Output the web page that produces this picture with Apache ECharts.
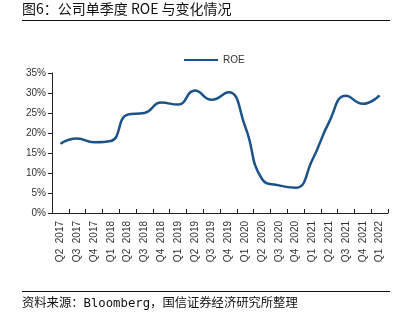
<!DOCTYPE html>
<html>
<head>
<meta charset="utf-8">
<script src="https://cdn.jsdelivr.net/npm/echarts@6/dist/echarts.min.js"></script>
<style>html,body{margin:0;padding:0;background:#fff;}#c{width:412px;height:327px;}</style>
</head>
<body>
<div id="c"></div>
<script>
const categories = ['Q2 2017','Q3 2017','Q4 2017','Q1 2018','Q2 2018','Q3 2018','Q4 2018','Q1 2019','Q2 2019','Q3 2019','Q4 2019','Q1 2020','Q2 2020','Q3 2020','Q4 2020','Q1 2021','Q2 2021','Q3 2021','Q4 2021','Q1 2022'];
const roe = [17.3, 18.6, 17.7, 18.0, 24.6, 25.0, 27.6, 27.1, 30.6, 28.3, 30.2, 21.6, 8.5, 6.9, 6.3, 13.3, 22.8, 29.3, 27.3, 29.4];
const yTicks = [0, 5, 10, 15, 20, 25, 30, 35];
const titleText = '图6：公司单季度 ROE 与变化情况';
const sourceText = '资料来源：Bloomberg，国信证券经济研究所整理';

const chart = echarts.init(document.getElementById('c'));
chart.setOption({
  animation: false,
  backgroundColor: '#fff',
  textStyle: { fontFamily: 'Liberation Sans, Arial, sans-serif' },
  legend: {
    data: ['ROE'],
    top: 50, left: 179,
    itemWidth: 34, itemHeight: 12, itemGap: 4,
    icon: 'path://M0,5 L34,5 L34,7 L0,7 Z',
    textStyle: { fontSize: 10, color: '#333' }
  },
  grid: { left: 52, right: 24, top: 73, bottom: 114 },
  xAxis: {
    type: 'category',
    data: categories,
    boundaryGap: true,
    axisLine: { lineStyle: { color: '#222', width: 1 } },
    axisTick: { show: true, length: 4, inside: true, lineStyle: { color: '#222' } },
    axisLabel: { rotate: 90, fontSize: 10, color: '#333', margin: 8, interval: 0,
      formatter: v => v.replace(' ', '  ') }
  },
  yAxis: {
    type: 'value',
    min: yTicks[0], max: yTicks[yTicks.length - 1], interval: 5,
    axisLine: { show: true, lineStyle: { color: '#222', width: 1 } },
    axisTick: { show: true, length: 4, lineStyle: { color: '#222' } },
    splitLine: { show: false },
    axisLabel: { fontSize: 10, color: '#333', margin: 6, formatter: v => v + '%' }
  },
  series: [{
    name: 'ROE',
    type: 'line',
    data: roe,
    smooth: 0.5,
    symbol: 'none',
    lineStyle: { color: '#1a5289', width: 2.5 },
    itemStyle: { color: '#1a5289' }
  }],
  graphic: [
    { type: 'text', left: 22, top: 2, style: { text: titleText, fontSize: 14, fill: '#111', fontFamily: 'Noto Sans CJK SC, sans-serif' } },
    { type: 'line', shape: { x1: 22, y1: 20.5, x2: 390, y2: 20.5 }, style: { stroke: '#111', lineWidth: 1 } },
    { type: 'line', shape: { x1: 22, y1: 291.5, x2: 390, y2: 291.5 }, style: { stroke: '#111', lineWidth: 1 } },
    { type: 'text', left: 22, top: 298, style: { text: sourceText, fontSize: 12.3, fill: '#111', fontFamily: 'DejaVu Sans Mono, Noto Sans CJK SC, monospace' } }
  ]
});
</script>
</body>
</html>
